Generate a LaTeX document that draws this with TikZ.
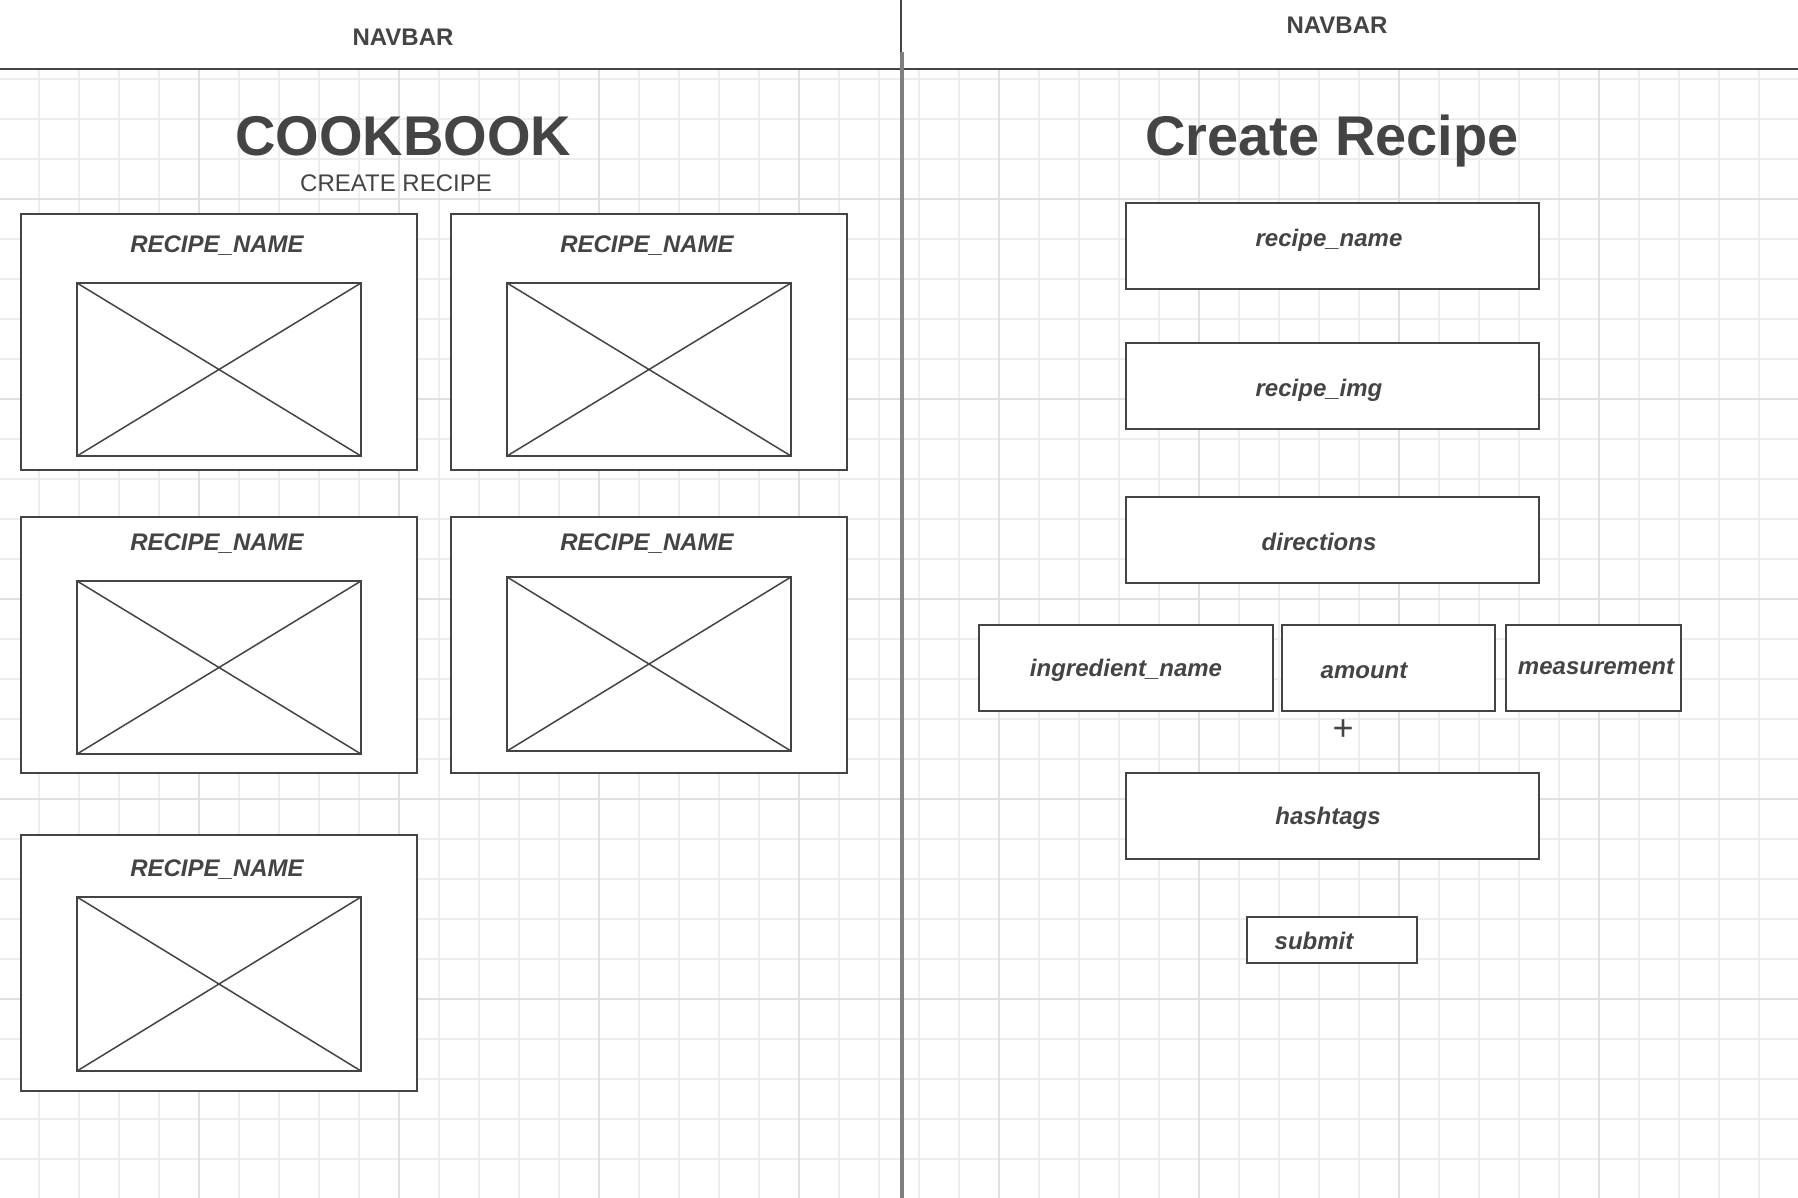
\documentclass[tikz,border=0pt]{standalone}
\usepackage{fontspec}
\setmainfont{Liberation Sans}
\usetikzlibrary{fit}
\definecolor{ink}{HTML}{444444}
\definecolor{gridminor}{HTML}{EDEDED}
\definecolor{gridmajor}{HTML}{E0E0E0}
\definecolor{divider}{HTML}{7F7F7F}
\begin{document}
\begin{tikzpicture}[x=0.5pt,y=-0.5pt,
  frame/.style={draw=ink, line width=1pt, fill=white, inner sep=0pt, outer sep=0pt},
  cross/.style={draw=ink, line width=0.75pt},
  heading/.style={font=\fontsize{28}{32}\selectfont\bfseries, text=ink, inner sep=0pt, anchor=base},
  navtext/.style={font=\fontsize{12}{14}\selectfont\bfseries, text=ink, inner sep=0pt, anchor=base},
  subtext/.style={font=\fontsize{12}{14}\selectfont, text=ink, inner sep=0pt, anchor=base},
  field/.style={font=\fontsize{12}{14}\selectfont\bfseries\itshape, text=ink, inner sep=0pt, anchor=base},
  plus/.style={font=\fontsize{18}{20}\selectfont, text=ink, inner sep=0pt}]

% page and canvas
\useasboundingbox (0,0) rectangle (1798,1198);
\fill[white] (0,0) rectangle (1798,1198);

% background grid below the navigation bar
\foreach \i in {1,...,44}
  \draw[gridminor, line width=0.75pt] ({40*\i-1},70) -- ({40*\i-1},1198);
\foreach \j in {2,...,29}
  \draw[gridminor, line width=0.75pt] (0,{40*\j-1}) -- (1798,{40*\j-1});
\foreach \i in {1,...,8}
  \draw[gridmajor, line width=0.75pt] ({200*\i-1},70) -- ({200*\i-1},1198);
\foreach \j in {1,...,5}
  \draw[gridmajor, line width=0.75pt] (0,{200*\j-1}) -- (1798,{200*\j-1});

% navigation bar edge and page divider
\draw[ink, line width=1pt] (0,69) -- (1798,69);
\draw[ink, line width=1pt] (901,0) -- (901,53);
\draw[divider, line width=2pt] (902,52) -- (902,1198);

% ---------- cookbook page ----------
\node[navtext] (navL) at (403,46) {NAVBAR};
\node[heading] (cookbook) at (403,156) {COOKBOOK};
\node[subtext] (createlink) at (396,192) {CREATE RECIPE};

% recipe cards
\node[frame, fit={(21,214) (417,470)}] (card1) {};
\node[frame, fit={(77,283) (361,456)}] (img1) {};
\node[field] (title1) at (217,253) {RECIPE\_NAME};

\node[frame, fit={(451,214) (847,470)}] (card2) {};
\node[frame, fit={(507,283) (791,456)}] (img2) {};
\node[field] (title2) at (647,253) {RECIPE\_NAME};

\node[frame, fit={(21,517) (417,773)}] (card3) {};
\node[frame, fit={(77,581) (361,754)}] (img3) {};
\node[field] (title3) at (217,550) {RECIPE\_NAME};

\node[frame, fit={(451,517) (847,773)}] (card4) {};
\node[frame, fit={(507,577) (791,751)}] (img4) {};
\node[field] (title4) at (647,550) {RECIPE\_NAME};

\node[frame, fit={(21,835) (417,1091)}] (card5) {};
\node[frame, fit={(77,897) (361,1071)}] (img5) {};
\node[field] (title5) at (217,876) {RECIPE\_NAME};

% image placeholders
\foreach \k in {1,...,5}
  \draw[cross] (img\k.north west) -- (img\k.south east)
               (img\k.south west) -- (img\k.north east);

% ---------- create recipe page ----------
\node[navtext] (navR) at (1337,34) {NAVBAR};
\node[heading] (createtitle) at (1332,156) {Create Recipe};

\node[frame, fit={(1126,203) (1539,289)}] (rname) {};
\node[field] at (1329,247) {recipe\_name};

\node[frame, fit={(1126,343) (1539,429)}] (rimg) {};
\node[field] at (1319,396) {recipe\_img};

\node[frame, fit={(1126,497) (1539,583)}] (dirs) {};
\node[field] at (1319,550) {directions};

\node[frame, fit={(979,625) (1273,711)}] (ingr) {};
\node[field] at (1126,676) {ingredient\_name};

\node[frame, fit={(1282,625) (1495,711)}] (amt) {};
\node[field] at (1364,678) {amount};

\node[frame, fit={(1506,625) (1681,711)}] (meas) {};
\node[field] at (1596,674) {measurement};

\node[plus] (addrow) at (1343,730) {+};

\node[frame, fit={(1126,773) (1539,859)}] (hash) {};
\node[field] at (1328,824) {hashtags};

\node[frame, fit={(1247,917) (1417,963)}] (submit) {};
\node[field] at (1314,949) {submit};

\end{tikzpicture}
\end{document}
